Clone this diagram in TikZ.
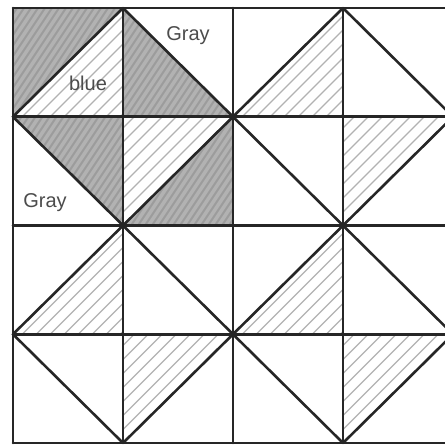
\documentclass[tikz,border=0pt]{standalone}
\usepackage{fontspec}
\setmainfont{Liberation Sans}
\begin{document}
\begin{tikzpicture}[x=1pt,y=-1pt,
  gridline/.style={draw=black!85,line width=2.6pt,line cap=round,line join=round},
  darkshade/.style={fill=gray!60},
  darkline/.style={draw=gray!78,line width=2pt},
  hatchline/.style={draw=gray!60,line width=1.3pt,line cap=round},
  lbl/.style={text=black!70,font=\fontsize{20}{20}\selectfont}]
\useasboundingbox (0,0) rectangle (444,446);
\fill[white] (0,0) rectangle (444,446);
% hatched inner triangles in every block
\foreach \ox/\oy in {13/8,233/8,13/225.5,233/225.5}{
  \begin{scope}[shift={(\ox,\oy)}]
    \begin{scope}
      \clip (0,108.75) -- (110,0) -- (110,108.75) -- cycle;
      \foreach \c in {20,34,...,230}{ \draw[hatchline] (\c,0) -- ++(-240,240); }
    \end{scope}
    \begin{scope}
      \clip (110,108.75) -- (220,108.75) -- (110,217.5) -- cycle;
      \foreach \c in {230,244,...,450}{ \draw[hatchline] (\c,0) -- ++(-240,240); }
    \end{scope}
  \end{scope}
}
% dark pencil-shaded triangles in the top-left block
\begin{scope}[shift={(13,8)}]
  \foreach \tri in {{(0,0) -- (110,0) -- (0,108.75)},
                    {(110,0) -- (110,108.75) -- (220,108.75)},
                    {(0,108.75) -- (110,108.75) -- (110,217.5)},
                    {(220,108.75) -- (220,217.5) -- (110,217.5)}}{
    \begin{scope}
      \clip \tri -- cycle;
      \fill[darkshade] \tri -- cycle;
      \foreach \c in {-220,-213,...,450}{ \draw[darkline] (\c,0) -- ++(-160,240); }
    \end{scope}
  }
\end{scope}
% grid
\foreach \x in {13,123,233,343,453}{
  \draw[gridline] (\x,8) -- (\x,443);
}
\foreach \y in {8,116.75,225.5,334.25,443}{
  \draw[gridline] (13,\y) -- (453,\y);
}
% diamonds
\foreach \ox/\oy in {13/8,233/8,13/225.5,233/225.5}{
  \begin{scope}[shift={(\ox,\oy)}]
    \draw[gridline] (110,0) -- (220,108.75) -- (110,217.5) -- (0,108.75) -- cycle;
  \end{scope}
}
% labels
\node[lbl] (gray1) at (188,36) {Gray};
\node[lbl] (blue1) at (88,83) {blue};
\node[lbl] (gray2) at (45,203) {Gray};
\end{tikzpicture}
\end{document}
